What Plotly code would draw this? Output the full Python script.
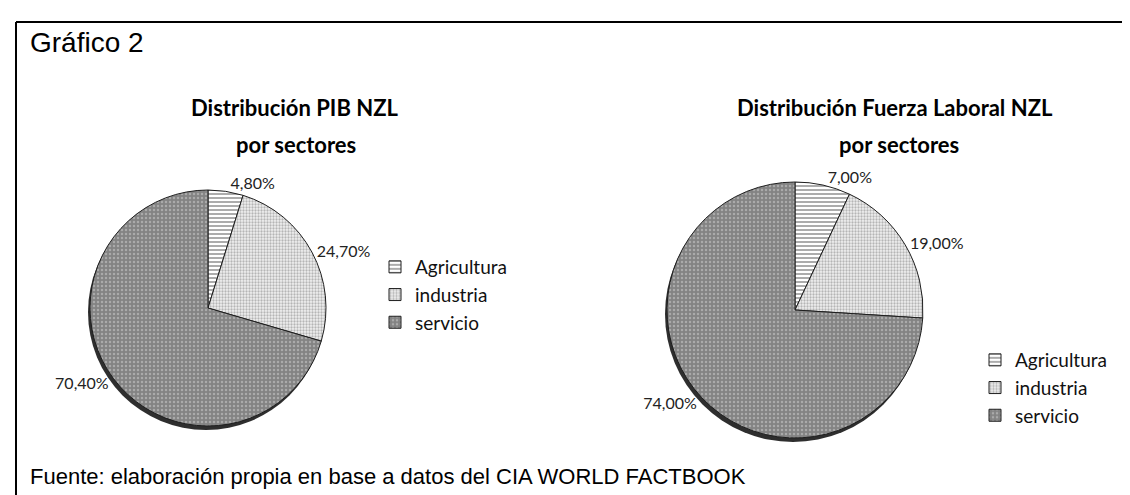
import plotly.graph_objects as go

categories = ["Agricultura", "industria", "servicio"]
pib_values = [4.80, 24.70, 70.40]
labor_values = [7.00, 19.00, 74.00]
title_pib = ["Distribución PIB NZL", "por sectores"]
title_labor = ["Distribución Fuerza Laboral NZL", "por sectores"]
chart_label = "Gráfico 2"
source_note = "Fuente: elaboración propia en base a datos del CIA WORLD FACTBOOK"

W, H = 1130, 495

def px(x):
    return x / W

def py(y):
    return 1 - y / H

marker = dict(
    colors=["#ffffff", "#ffffff", "#8a8a8a"],
    line=dict(color="#1e1e1e", width=1),
    pattern=dict(
        shape=["-", ".", "."],
        fgcolor=["#111111", "#7a7a7a", "#cfcfcf"],
        bgcolor=["#ffffff", "#f0f0f0", "#838383"],
        size=[4, 3, 4],
        solidity=[0.35, 0.45, 0.3],
        fillmode="overlay",
    ),
)

label_font = dict(family="Lato, Carlito, Calibri, sans-serif", size=16, color="#222222")

def pie(labels, values, domain, legend):
    return go.Pie(
        labels=labels,
        values=values,
        sort=False,
        direction="clockwise",
        rotation=0,
        marker=marker,
        textposition="outside",
        texttemplate="%{value:.2f}%",
        textfont=label_font,
        outsidetextfont=label_font,
        domain=domain,
        legend=legend,
        hoverinfo="label+value",
    )

# pie geometry (pixels)
L_cx, L_cy, L_r = 200, 300, 118
R_cx, R_cy, R_r = 787, 302, 128

# each chart keeps its own legend: make the second chart's labels distinct (trailing nbsp)
labels_left = categories
labels_right = [c + "\u00a0" for c in categories]

fig = go.Figure()
fig.add_trace(pie(labels_left, pib_values,
                  dict(x=[px(L_cx - L_r), px(L_cx + L_r)], y=[py(L_cy + L_r), py(L_cy - L_r)]),
                  "legend"))
fig.add_trace(pie(labels_right, labor_values,
                  dict(x=[px(R_cx - R_r), px(R_cx + R_r)], y=[py(R_cy + R_r), py(R_cy - R_r)]),
                  "legend2"))

legend_font = dict(family="Lato, Carlito, Calibri, sans-serif", size=19, color="#111111")

shapes = []
# 3D-like shadow under pies
for cx, cy, r in [(L_cx, L_cy, L_r), (R_cx, R_cy, R_r)]:
    shapes.append(dict(type="circle", xref="paper", yref="paper", layer="below",
                       x0=px(cx - r - 2), x1=px(cx + r - 2),
                       y0=py(cy + r + 4), y1=py(cy - r + 4),
                       fillcolor="#2e2e2e", line=dict(width=0)))
# frame (top and left edges)
shapes.append(dict(type="line", xref="paper", yref="paper", x0=px(8), x1=1.0, y0=py(14), y1=py(14),
                   line=dict(color="black", width=2)))
shapes.append(dict(type="line", xref="paper", yref="paper", x0=px(8), x1=px(8), y0=py(14), y1=0,
                   line=dict(color="black", width=2)))

title_font = dict(family="Lato, Carlito, Calibri, sans-serif", size=22, color="#000000")
annotations = [
    dict(text=chart_label, x=px(20), y=py(34), xref="paper", yref="paper", xanchor="left", yanchor="middle",
         showarrow=False, font=dict(family="Liberation Sans, Arial, sans-serif", size=28, color="#000")),
    dict(text=source_note, x=px(20), y=py(468), xref="paper", yref="paper", xanchor="left", yanchor="middle",
         showarrow=False, font=dict(family="Liberation Sans, Arial, sans-serif", size=22, color="#000")),
    dict(text="<b>%s</b>" % title_pib[0], x=px(287), y=py(100), xref="paper", yref="paper",
         xanchor="center", yanchor="middle", showarrow=False, font=title_font),
    dict(text="<b>%s</b>" % title_pib[1], x=px(288), y=py(136), xref="paper", yref="paper",
         xanchor="center", yanchor="middle", showarrow=False, font=title_font),
    dict(text="<b>%s</b>" % title_labor[0], x=px(887), y=py(100), xref="paper", yref="paper",
         xanchor="center", yanchor="middle", showarrow=False, font=title_font),
    dict(text="<b>%s</b>" % title_labor[1], x=px(891), y=py(136), xref="paper", yref="paper",
         xanchor="center", yanchor="middle", showarrow=False, font=title_font),
]

fig.update_layout(
    width=W, height=H,
    margin=dict(l=0, r=0, t=0, b=0),
    paper_bgcolor="white",
    plot_bgcolor="white",
    separators=",.",
    showlegend=True,
    legend=dict(x=px(367), y=py(240), xanchor="left", yanchor="top", font=legend_font,
                bgcolor="rgba(0,0,0,0)", itemwidth=30, tracegroupgap=0),
    legend2=dict(x=px(967), y=py(333), xanchor="left", yanchor="top", font=legend_font,
                 bgcolor="rgba(0,0,0,0)", itemwidth=30, tracegroupgap=0),
    shapes=shapes,
    annotations=annotations,
)

fig.write_html("out.html")
